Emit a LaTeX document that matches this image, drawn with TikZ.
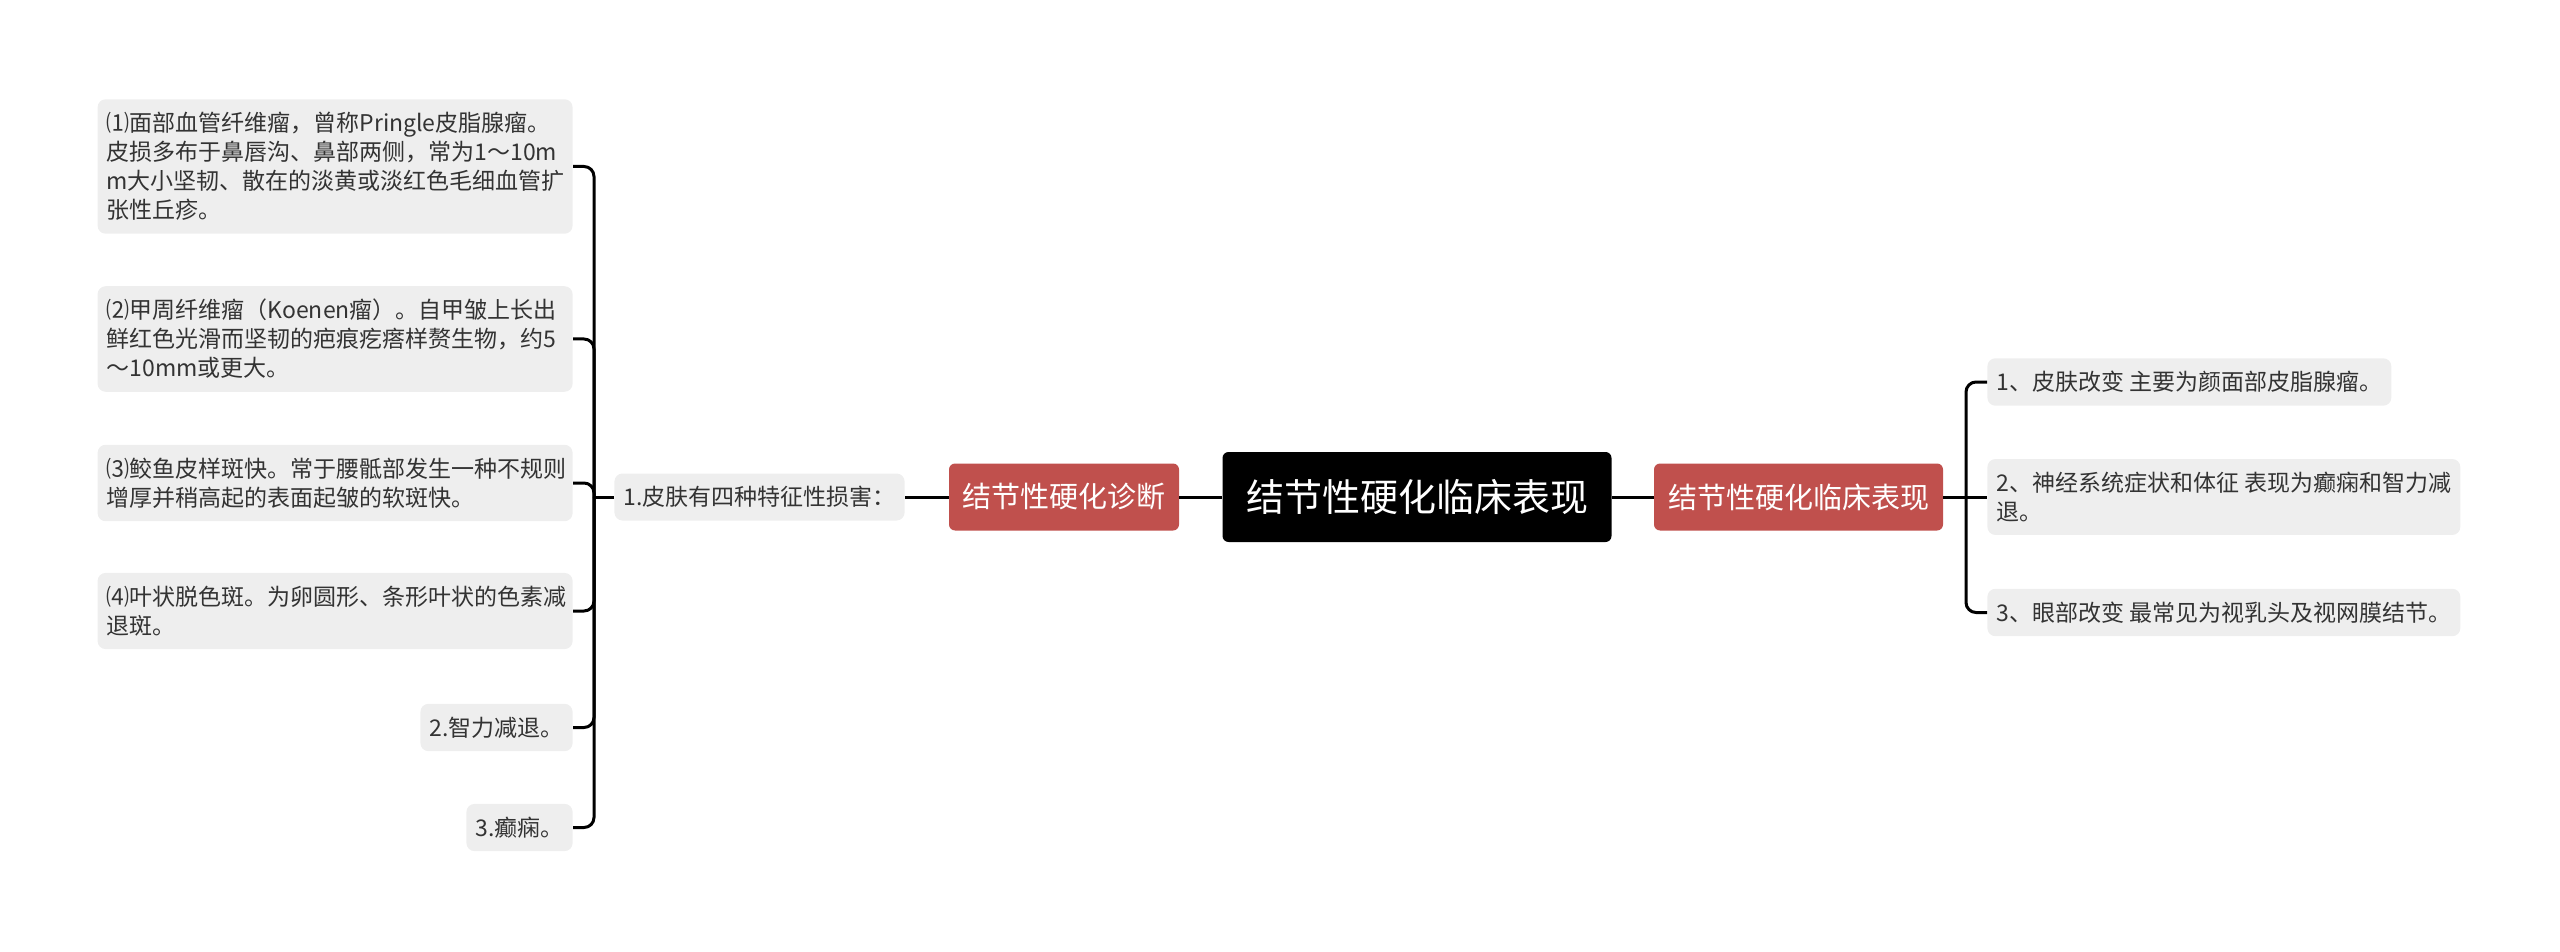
\documentclass[tikz,border=0pt]{standalone}
\usepackage{fontspec}
\setmainfont{Noto Sans CJK SC}
\usepackage{tikz}
\usetikzlibrary{shapes,arrows,positioning}

\definecolor{mapred}{HTML}{C0504D}
\definecolor{leafgray}{HTML}{EEEEEE}
\definecolor{leaftext}{HTML}{333333}

\begin{document}
\begin{tikzpicture}[x=0.5pt, y=-0.5pt,
    rootbox/.style={fill=black, text=white, rounded corners=3pt, inner sep=0pt, minimum width=194.5pt, minimum height=45pt, font=\fontsize{19}{23}\selectfont},
    mainbox/.style={fill=mapred, text=white, rounded corners=3pt, inner sep=0pt, minimum height=33.5pt, font=\fontsize{14.5}{18}\selectfont},
    leafbox/.style={fill=leafgray, text=leaftext, rounded corners=4pt, align=left, inner xsep=4.5pt, inner ysep=6.5pt, font=\fontsize{11.5}{14.5}\selectfont},
    widebox/.style={leafbox, text width=228.5pt},
    link/.style={line width=1.5pt, rounded corners=5pt}
]
\useasboundingbox (0,0) rectangle (2560,952);

% --- centre ---
\node[rootbox] (root) at (1417,497) {结节性硬化临床表现};

% --- left branch: diagnosis ---
\node[mainbox, minimum width=115pt] (diag) at (1064,497) {结节性硬化诊断};
\node[leafbox, minimum height=23.5pt, inner ysep=0pt, anchor=east] (skin) at (905,497) {1.皮肤有四种特征性损害：};

\node[widebox, anchor=east] (lesion1) at (573,166.5) {⑴面部血管纤维瘤，曾称Pringle皮脂腺瘤。\\皮损多布于鼻唇沟、鼻部两侧，常为1～10m\\m大小坚韧、散在的淡黄或淡红色毛细血管扩\\张性丘疹。};
\node[widebox, anchor=east] (lesion2) at (573,339) {⑵甲周纤维瘤（Koenen瘤）。自甲皱上长出\\鲜红色光滑而坚韧的疤痕疙瘩样赘生物，约5\\～10mm或更大。};
\node[widebox, anchor=east] (lesion3) at (573,483) {⑶鲛鱼皮样斑快。常于腰骶部发生一种不规则\\增厚并稍高起的表面起皱的软斑快。};
\node[widebox, anchor=east] (lesion4) at (573,611) {⑷叶状脱色斑。为卵圆形、条形叶状的色素减\\退斑。};
\node[leafbox, anchor=east] (mind) at (573,727.5) {2.智力减退。};
\node[leafbox, anchor=east] (fits) at (573,827.5) {3.癫痫。};

% --- right branch: clinical signs ---
\node[mainbox, minimum width=144.5pt] (clin) at (1798.5,497) {结节性硬化临床表现};

\node[leafbox, anchor=west] (sign1) at (1987,382) {1、皮肤改变 主要为颜面部皮脂腺瘤。};
\node[leafbox, anchor=west] (sign2) at (1987,497) {2、神经系统症状和体征 表现为癫痫和智力减\\退。};
\node[leafbox, anchor=west] (sign3) at (1987,612.5) {3、眼部改变 最常见为视乳头及视网膜结节。};

% --- connectors ---
\draw[link] (root) -- (diag);
\draw[link] (root) -- (clin);
\draw[link] (diag) -- (skin);

\coordinate (lfork) at (594,497);
\draw[link] (skin.west) -- (lfork);
\foreach \leaf in {lesion1,lesion2,lesion3,lesion4,mind,fits}
  \draw[link] (\leaf.east) -| (lfork);

\coordinate (rfork) at (1966,497);
\draw[link] (clin.east) -- (rfork);
\foreach \leaf in {sign1,sign3}
  \draw[link] (\leaf.west) -| (rfork);
\draw[link] (rfork) -- (sign2.west);

\end{tikzpicture}
\end{document}
